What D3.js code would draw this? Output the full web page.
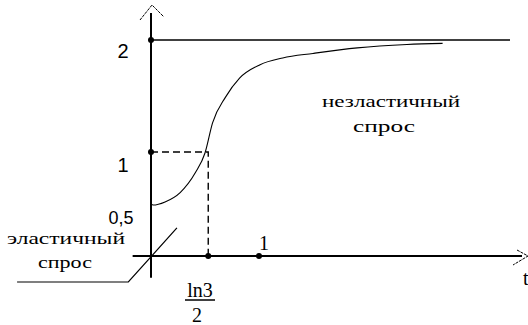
<!DOCTYPE html>
<html>
<head>
<meta charset="utf-8">
<script src="https://cdn.jsdelivr.net/npm/d3@7"></script>
<style>
  body { margin: 0; background: #fff; }
  svg { display: block; }
</style>
</head>
<body>
<svg id="chart"></svg>
<script>
// curve (t, price)
const curveT = [0, 0.02, 0.13, 0.27, 0.41, 0.50, 0.57, 0.69, 0.82, 1.01, 1.22, 1.50, 1.91, 2.37, 2.70];
const curveY = [0.50, 0.49, 0.52, 0.61, 0.80, 0.99, 1.26, 1.49, 1.66, 1.78, 1.84, 1.88, 1.93, 1.96, 1.97];

// elastic demand polyline
const elasticT = [-1.24, -0.21, 0.24];
const elasticY = [-0.25, -0.25, 0.27];

const asymptote = 2;
const markT = 0.53;      // ln3/2
const markY = 1;
const xTicks = [1];
const yLabels = ["2", "1", "0,5"];

const width = 528, height = 325;
const svg = d3.select("#chart").attr("width", width).attr("height", height);

const x = d3.scaleLinear().domain([0, 1]).range([151, 259]);
const y = d3.scaleLinear().domain([0, 1, 2]).range([256, 152, 40]);

const serif = "'Liberation Serif', 'Times New Roman', serif";
const sans = "'Liberation Sans', Arial, sans-serif";

// axes
svg.append("line")
    .attr("x1", x(0)).attr("x2", x(0))
    .attr("y1", y(-0.21)).attr("y2", 13)
    .attr("stroke", "#000").attr("stroke-width", 2);
svg.append("polyline")
    .attr("points", `${x(0) - 11},20 ${x(0) + 1},5 ${x(0) + 13},17`)
    .attr("fill", "none").attr("stroke", "#000").attr("stroke-width", 1)
    .attr("stroke-dasharray", "3,1");

svg.append("line")
    .attr("x1", x(-0.17)).attr("x2", 522)
    .attr("y1", y(0)).attr("y2", y(0))
    .attr("stroke", "#000").attr("stroke-width", 2);
svg.append("polyline")
    .attr("points", `517,250 528,${y(0)} 513,265`)
    .attr("fill", "none").attr("stroke", "#000").attr("stroke-width", 1)
    .attr("stroke-dasharray", "3,1");

// asymptote
svg.append("line")
    .attr("x1", x(0)).attr("x2", 510)
    .attr("y1", y(asymptote)).attr("y2", y(asymptote))
    .attr("stroke", "#000").attr("stroke-width", 1.5);

// dashed guides to (ln3/2, 1)
svg.append("path")
    .attr("d", `M${x(0)},${y(markY)}H${x(markT)}V${y(0)}`)
    .attr("fill", "none").attr("stroke", "#000").attr("stroke-width", 1.4)
    .attr("stroke-dasharray", "7,4");

// curve
const line = d3.line().x(d => x(d[0])).y(d => y(d[1])).curve(d3.curveMonotoneX);
svg.append("path")
    .datum(d3.zip(curveT, curveY))
    .attr("d", line)
    .attr("fill", "none").attr("stroke", "#000").attr("stroke-width", 1.1);

// elastic demand
svg.append("path")
    .datum(d3.zip(elasticT, elasticY))
    .attr("d", d3.line().x(d => x(d[0])).y(d => y(d[1])))
    .attr("fill", "none").attr("stroke", "#000").attr("stroke-width", 1.2);

// dots
const dots = [[0, 2], [0, 1], [markT, 0], [1, 0]];
svg.selectAll(".dot")
    .data(dots)
    .enter().append("circle")
    .attr("class", "dot")
    .attr("cx", d => x(d[0]))
    .attr("cy", d => y(d[1]))
    .attr("r", 3)
    .attr("fill", "#000");

// y labels
svg.selectAll(".ylab")
    .data(yLabels)
    .enter().append("text")
    .attr("class", "ylab")
    .attr("x", (d, i) => i === 2 ? 121 : 123)
    .attr("y", (d, i) => [58, 172, 224][i])
    .attr("text-anchor", "middle")
    .style("font-family", sans)
    .style("font-size", (d, i) => i === 2 ? "18px" : "20px")
    .text(d => d);

// x tick label
svg.selectAll(".xlab")
    .data(xTicks)
    .enter().append("text")
    .attr("class", "xlab")
    .attr("x", d => x(d) + 5)
    .attr("y", 250)
    .attr("text-anchor", "middle")
    .style("font-family", serif)
    .style("font-size", "20px")
    .text(d => d);

// ln3 / 2
svg.append("text")
    .attr("x", 200).attr("y", 297)
    .attr("text-anchor", "middle")
    .style("font-family", serif).style("font-size", "20px")
    .text("ln3");
svg.append("line")
    .attr("x1", 185).attr("x2", 215).attr("y1", 300).attr("y2", 300)
    .attr("stroke", "#000").attr("stroke-width", 1.5);
svg.append("text")
    .attr("x", 197).attr("y", 322)
    .attr("text-anchor", "middle")
    .style("font-family", serif).style("font-size", "20px")
    .text("2");

svg.append("text")
    .attr("x", 523).attr("y", 285)
    .style("font-family", serif).style("font-size", "20px")
    .text("t");

// region labels
function label(txt, x0, yb, len) {
    svg.append("text")
        .attr("x", x0).attr("y", yb)
        .attr("textLength", len)
        .attr("lengthAdjust", "spacingAndGlyphs")
        .style("font-family", serif)
        .style("font-size", "17px")
        .text(txt);
}
label("незластичный", 322, 107, 138);
label("спрос", 353, 132, 62);
label("эластичный", 7, 244, 118);
label("спрос", 38, 268, 54);
</script>
</body>
</html>
